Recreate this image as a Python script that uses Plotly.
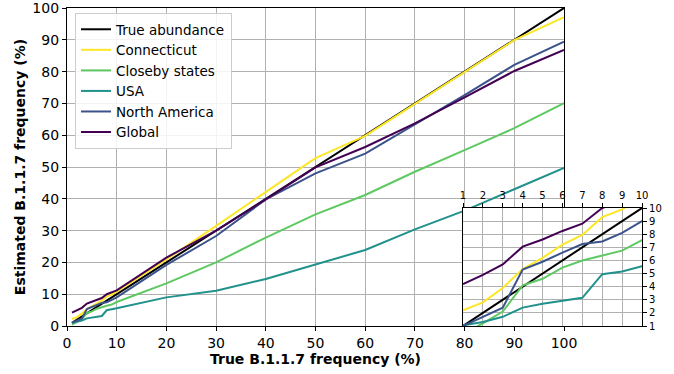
import plotly.graph_objects as go

# ---- data ----
true_freq = [1, 2, 3, 4, 5, 6, 7, 8, 9, 10, 20, 30, 40, 50, 60, 70, 80, 90, 100]
true_abundance = [1, 2, 3, 4, 5, 6, 7, 8, 9, 10, 20, 30, 40, 50, 60, 70, 80, 90, 100]
connecticut = [2.2, 2.8, 3.9, 5.35, 6.2, 7.2, 7.95, 9.3, 9.9, 10.8, 20.9, 31.5, 42.2, 52.8, 59.8, 69.8, 79.8, 89.9, 97.1]
closeby = [0.4, 1.2, 2.1, 4.1, 4.6, 5.45, 6.0, 6.35, 6.75, 7.55, 13.4, 20.0, 27.8, 35.1, 41.2, 48.5, 55.3, 62.2, 70.1]
usa = [1.05, 1.3, 1.7, 2.4, 2.7, 2.95, 3.15, 4.95, 5.15, 5.55, 9.0, 11.1, 14.8, 19.4, 23.9, 30.4, 36.3, 43.0, 49.7]
north_america = [1.0, 1.7, 2.4, 5.3, 5.9, 6.6, 7.25, 7.45, 8.1, 9.0, 19.2, 28.3, 39.8, 48.0, 54.2, 63.3, 72.6, 82.1, 89.4]
global_ = [4.2, 4.9, 5.7, 7.05, 7.6, 8.25, 8.8, 10.0, 10.5, 11.2, 21.5, 30.0, 39.8, 49.9, 56.3, 63.7, 71.9, 80.2, 86.8]

series_names = ["True abundance", "Connecticut", "Closeby states", "USA", "North America", "Global"]
series_values = [true_abundance, connecticut, closeby, usa, north_america, global_]
series_colors = ["#000000", "#fde725", "#5ec962", "#21918c", "#3b528b", "#440154"]

main_ticks = [0, 10, 20, 30, 40, 50, 60, 70, 80, 90, 100]
inset_ticks = [1, 2, 3, 4, 5, 6, 7, 8, 9, 10]

FONT = "DejaVu Sans"
W, H = 674, 374

fig = go.Figure()
for name, vals, col in zip(series_names, series_values, series_colors):
    fig.add_trace(go.Scatter(x=true_freq, y=vals, mode="lines", name=name,
                             line=dict(color=col, width=2), xaxis="x", yaxis="y"))
for name, vals, col in zip(series_names, series_values, series_colors):
    fig.add_trace(go.Scatter(x=true_freq, y=vals, mode="lines", name=name, showlegend=False,
                             line=dict(color=col, width=2), xaxis="x2", yaxis="y2"))

def px_x(p):
    return p / W

def px_y(p):
    return 1 - p / H

axis_common = dict(showline=True, linecolor="black", linewidth=1.2, mirror=True,
                   showgrid=True, gridcolor="#b0b0b0", gridwidth=1,
                   ticks="outside", ticklen=4, tickcolor="black",
                   zeroline=False, automargin=False, ticklabeloverflow="allow",
                   tickfont=dict(family=FONT, size=14, color="black"))

inset_common = dict(showline=True, linecolor="black", linewidth=1.2, mirror=True,
                    showgrid=True, gridcolor="#b0b0b0", gridwidth=1,
                    ticks="outside", ticklen=4, tickcolor="black", zeroline=False,
                    automargin=False, ticklabeloverflow="allow",
                    tickfont=dict(family=FONT, size=10, color="black"))

fig.update_layout(
    width=W, height=H,
    margin=dict(l=0, r=0, t=0, b=0, pad=0),
    paper_bgcolor="white", plot_bgcolor="white",
    font=dict(family=FONT, size=14, color="black"),
    xaxis=dict(domain=[px_x(67), px_x(564)], range=[0, 100], tickvals=main_ticks,
               anchor="y",
               title=dict(text="<b>True B.1.1.7 frequency (%)</b>", standoff=2,
                          font=dict(family=FONT, size=14, color="black")),
               **axis_common),
    yaxis=dict(domain=[px_y(326), px_y(8)], range=[0, 100], tickvals=main_ticks,
               anchor="x",
               title=dict(text="<b>Estimated B.1.1.7 frequency (%)</b>", standoff=3,
                          font=dict(family=FONT, size=14, color="black")),
               **axis_common),
    xaxis2=dict(domain=[px_x(463), px_x(642)], range=[1, 10], tickvals=inset_ticks,
                anchor="y2", side="top", **inset_common),
    yaxis2=dict(domain=[px_y(326), px_y(208)], range=[1, 10], tickvals=inset_ticks,
                anchor="x2", side="right", **inset_common),
    legend=dict(x=px_x(75), y=px_y(13), xanchor="left", yanchor="top",
                bgcolor="rgba(255,255,255,0.85)", bordercolor="#cccccc", borderwidth=1,
                font=dict(family=FONT, size=13.5, color="black"),
                tracegroupgap=0, itemwidth=30),
    showlegend=True,
)

fig.write_html("out.html")
